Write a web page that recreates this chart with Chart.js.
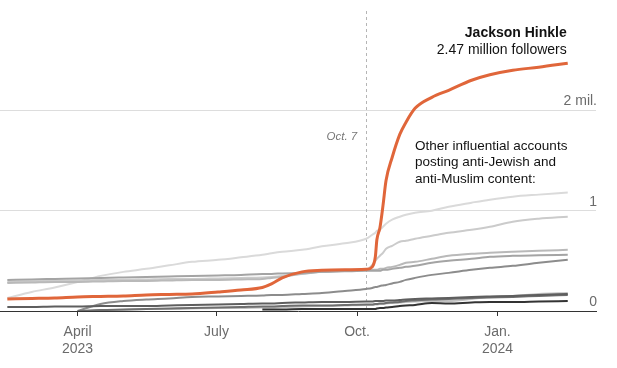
<!DOCTYPE html>
<html>
<head>
<meta charset="utf-8">
<script src="https://cdn.jsdelivr.net/npm/chart.js@4.4.1/dist/chart.umd.min.js"></script>
<style>
  body { margin: 0; background: #fff; }
  canvas { display: block; }
</style>
</head>
<body>
<canvas id="myChart" width="617" height="368"></canvas>
<script>
// days counted from Jan 1, 2023 (0 = Jan 1 2023, 365 = Jan 1 2024)
const days = [44, 60, 75, 90, 105, 120, 135, 150, 165, 182, 197, 211, 217, 224, 237, 250, 265, 279, 283, 285, 286, 288, 290, 292, 296, 301, 305, 311, 322, 333, 348, 360, 375, 392, 411]

// followers, in millions
const hinkle = [0.12, 0.125, 0.13, 0.14, 0.145, 0.15, 0.16, 0.165, 0.17, 0.19, 0.21, 0.235, 0.27, 0.33, 0.39, 0.405, 0.41, 0.415, 0.44, 0.54, 0.71, 0.83, 1.05, 1.3, 1.53, 1.76, 1.88, 2.02, 2.13, 2.20, 2.30, 2.355, 2.40, 2.43, 2.47]
const accountA = [0.13, 0.19, 0.235, 0.29, 0.35, 0.39, 0.42, 0.455, 0.49, 0.51, 0.535, 0.56, 0.575, 0.59, 0.61, 0.645, 0.675, 0.72, 0.76, 0.78, 0.80, 0.81, 0.84, 0.87, 0.91, 0.94, 0.96, 0.98, 1.00, 1.04, 1.08, 1.11, 1.14, 1.16, 1.18]
const accountB = [0.29, 0.295, 0.30, 0.305, 0.31, 0.31, 0.315, 0.32, 0.32, 0.325, 0.33, 0.335, 0.34, 0.35, 0.37, 0.39, 0.40, 0.41, 0.46, 0.50, 0.52, 0.55, 0.58, 0.62, 0.65, 0.69, 0.70, 0.72, 0.75, 0.78, 0.81, 0.84, 0.89, 0.92, 0.94]
const accountC = [0.28, 0.285, 0.29, 0.29, 0.295, 0.30, 0.30, 0.305, 0.31, 0.31, 0.315, 0.32, 0.33, 0.34, 0.37, 0.39, 0.40, 0.41, 0.41, 0.41, 0.41, 0.42, 0.42, 0.43, 0.44, 0.46, 0.48, 0.49, 0.52, 0.55, 0.57, 0.58, 0.59, 0.60, 0.61]
const accountD = [0.31, 0.315, 0.32, 0.325, 0.33, 0.335, 0.34, 0.345, 0.35, 0.355, 0.36, 0.37, 0.37, 0.375, 0.38, 0.39, 0.395, 0.40, 0.40, 0.40, 0.40, 0.40, 0.41, 0.41, 0.42, 0.43, 0.44, 0.45, 0.48, 0.50, 0.52, 0.54, 0.55, 0.555, 0.56]
const accountE = [null, null, null, 0.0, 0.07, 0.10, 0.115, 0.125, 0.14, 0.145, 0.15, 0.155, 0.16, 0.16, 0.17, 0.18, 0.20, 0.22, 0.23, 0.24, 0.24, 0.25, 0.255, 0.26, 0.275, 0.29, 0.31, 0.33, 0.36, 0.38, 0.41, 0.43, 0.45, 0.48, 0.51]
const accountF = [0.04, 0.04, 0.045, 0.045, 0.05, 0.05, 0.05, 0.055, 0.06, 0.065, 0.07, 0.075, 0.075, 0.08, 0.085, 0.09, 0.09, 0.095, 0.095, 0.10, 0.10, 0.10, 0.10, 0.105, 0.105, 0.11, 0.115, 0.12, 0.125, 0.13, 0.14, 0.145, 0.15, 0.16, 0.17]
const accountG = [null, null, null, 0.0, 0.01, 0.015, 0.02, 0.025, 0.03, 0.035, 0.04, 0.045, 0.045, 0.05, 0.055, 0.055, 0.06, 0.065, 0.065, 0.07, 0.07, 0.075, 0.075, 0.08, 0.085, 0.09, 0.10, 0.105, 0.115, 0.12, 0.13, 0.135, 0.14, 0.15, 0.16]
const accountH = [null, null, null, 0.0, 0.005, 0.01, 0.02, 0.02, 0.025, 0.03, 0.03, 0.035, 0.035, 0.04, 0.045, 0.05, 0.055, 0.06, 0.06, 0.065, 0.065, 0.07, 0.07, 0.075, 0.08, 0.085, 0.09, 0.095, 0.10, 0.10, 0.12, 0.14, 0.15, 0.17, 0.18]
const accountI = [null, null, null, null, null, null, null, null, null, null, null, 0.015, 0.015, 0.015, 0.02, 0.02, 0.02, 0.02, 0.02, 0.02, 0.025, 0.03, 0.03, 0.035, 0.04, 0.05, 0.055, 0.06, 0.08, 0.075, 0.085, 0.09, 0.09, 0.095, 0.10]

// x axis ticks
const tickDays = [90, 181, 273, 365]
const tickLabels = [["April", "2023"], "July", "Oct.", ["Jan.", "2024"]]
const yTicks = [0, 1, 2]
const yTickLabels = ["0", "1", "2 mil."]
const oct7 = 279

const font = "'Liberation Sans', Arial, sans-serif"

function pts(vals) {
    return days.map((d, i) => ({ x: d, y: vals[i] }))
}

function line(label, vals, color, width) {
    return {
        label: label,
        data: pts(vals),
        borderColor: color,
        borderWidth: width,
        pointRadius: 0,
        cubicInterpolationMode: 'monotone',
        spanGaps: false
    }
}

const annotations = {
    id: 'annotations',
    beforeDatasetsDraw(chart) {
        const { ctx, scales: { x, y } } = chart
        const px = Math.round(x.getPixelForValue(oct7)) + 0.5
        ctx.save()
        ctx.strokeStyle = '#b5b5b5'
        ctx.lineWidth = 1
        ctx.setLineDash([3, 3])
        ctx.beginPath()
        ctx.moveTo(px, 11)
        ctx.lineTo(px, y.getPixelForValue(0))
        ctx.stroke()
        ctx.restore()
    },
    afterDatasetsDraw(chart) {
        const { ctx, scales: { x, y } } = chart
        ctx.save()
        ctx.textBaseline = 'middle'

        const endX = x.getPixelForValue(days[days.length - 1]) - 1
        ctx.textAlign = 'right'
        ctx.fillStyle = '#121212'
        ctx.font = "bold 14px " + font
        ctx.fillText("Jackson Hinkle", endX, y.getPixelForValue(2.77))
        ctx.font = "14px " + font
        ctx.fillText("2.47 million followers", endX, y.getPixelForValue(2.605))

        ctx.fillStyle = '#777'
        ctx.font = "italic 11.5px " + font
        ctx.fillText("Oct. 7", x.getPixelForValue(oct7) - 9, y.getPixelForValue(1.735))

        ctx.textAlign = 'left'
        ctx.fillStyle = '#121212'
        ctx.font = "13.5px " + font
        const noteX = x.getPixelForValue(311)
        ctx.fillText("Other influential accounts", noteX, y.getPixelForValue(1.645))
        ctx.fillText("posting anti-Jewish and", noteX, y.getPixelForValue(1.48))
        ctx.fillText("anti-Muslim content:", noteX, y.getPixelForValue(1.315))
        ctx.restore()
    }
}

const config = {
    type: 'line',
    data: {
        datasets: [
            line('Jackson Hinkle', hinkle, '#e0663a', 3),
            line('I', accountI, '#333333', 2),
            line('F', accountF, '#5e5e5e', 2),
            line('G', accountG, '#6e6e6e', 2),
            line('E', accountE, '#8c8c8c', 2),
            line('D', accountD, '#a4a4a4', 2),
            line('C', accountC, '#b9b9b9', 2),
            line('H', accountH, '#c2c2c2', 2),
            line('B', accountB, '#cbcbcb', 2),
            line('A', accountA, '#dadada', 2)
        ]
    },
    options: {
        responsive: false,
        animation: false,
        layout: { padding: { top: 0, right: 19, bottom: 0, left: 0 } },
        plugins: {
            legend: { display: false },
            tooltip: { enabled: false }
        },
        scales: {
            x: {
                type: 'linear',
                min: 39.2,
                max: 429.5,
                afterBuildTicks: (axis) => { axis.ticks = tickDays.map(v => ({ value: v })) },
                afterFit: (axis) => { axis.height = 57 },
                grid: { drawOnChartArea: false, drawTicks: true, tickLength: 5, color: '#333' },
                border: { display: true, color: '#333', width: 1 },
                ticks: {
                    padding: 7,
                    color: '#6b6b6b',
                    font: { family: font, size: 14, lineHeight: 1.25 },
                    maxRotation: 0,
                    autoSkip: false,
                    callback: (v) => tickLabels[tickDays.indexOf(v)]
                }
            },
            y: {
                position: 'right',
                min: 0,
                max: 3.1,
                afterBuildTicks: (axis) => { axis.ticks = yTicks.map(v => ({ value: v })) },
                afterFit: (axis) => { axis.paddingTop = 0; axis.paddingBottom = 0 },
                grid: {
                    drawTicks: false,
                    color: (c) => c.tick && c.tick.value === 0 ? 'rgba(0,0,0,0)' : '#dddddd'
                },
                border: { display: false },
                ticks: {
                    mirror: true,
                    padding: 1,
                    labelOffset: -9,
                    color: '#6b6b6b',
                    font: { family: font, size: 14 },
                    callback: (v) => yTickLabels[yTicks.indexOf(v)]
                }
            }
        }
    },
    plugins: [annotations]
}

new Chart(document.getElementById('myChart'), config)
</script>
</body>
</html>
